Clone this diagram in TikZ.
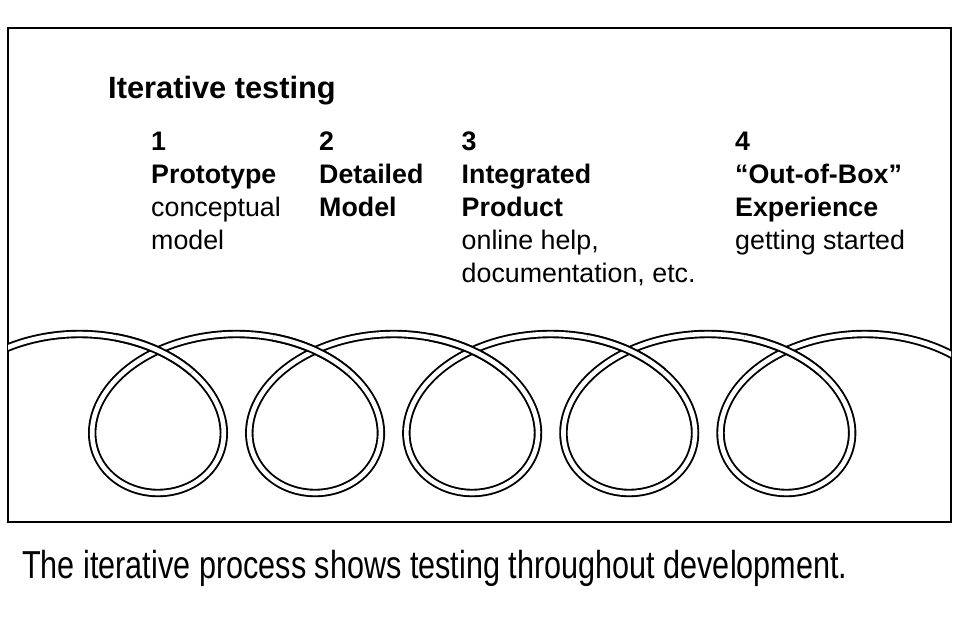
\documentclass[tikz,border=0pt]{standalone}
\usepackage{fontspec}
\setmainfont{Liberation Sans}
\newfontfamily\capfont[FakeStretch=0.785]{Liberation Sans}
\begin{document}
\begin{tikzpicture}[x=1pt,y=-1pt,
  lbl/.style={anchor=base west, inner sep=0pt, font=\fontsize{26.8}{33}\selectfont},
  lblb/.style={anchor=base west, inner sep=0pt, font=\fontsize{26.8}{33}\selectfont\bfseries},
  coil/.style={draw=black, line width=1.9pt, double=white, double distance=4.6pt},
  framebox/.style={draw=black, line width=2pt}]
\useasboundingbox (0,0) rectangle (960,640);
\fill[white] (0,0) rectangle (960,640);
% frame
\draw[framebox] (8,28) rectangle (951,522);
% coil
\begin{scope}
  \clip (8,28) rectangle (951,522);
  \draw[coil] plot[variable=\t, domain=-3.8:29.1, samples=800]
    ({158+25*\t-102*sin(\t r)},{413.5+79.5*cos(\t r)});
  \foreach \k in {0,...,4}{
    \pgfmathsetmacro{\ta}{2*pi*\k-2.85}
    \pgfmathsetmacro{\tb}{2*pi*\k-2.12}
    \draw[coil] plot[variable=\t, domain=\ta:\tb, samples=40]
      ({158+25*\t-102*sin(\t r)},{413.5+79.5*cos(\t r)});
  }
\end{scope}
% title
\node[anchor=base west, inner sep=0pt, font=\fontsize{30.8}{36}\selectfont\bfseries] (title) at (108,98.3) {Iterative testing};
% column 1
\node[lblb] (n1) at (151,150.5) {1};
\node[lblb] (h1) at (151,183) {Prototype};
\node[lbl]  (d1a) at (151,216) {conceptual};
\node[lbl]  (d1b) at (151,249) {model};
% column 2
\node[lblb] (n2) at (319,150.5) {2};
\node[lblb] (h2a) at (319,183) {Detailed};
\node[lblb] (h2b) at (319,216) {Model};
% column 3
\node[lblb] (n3) at (461.5,150.5) {3};
\node[lblb] (h3a) at (461.5,183) {Integrated};
\node[lblb] (h3b) at (461.5,216) {Product};
\node[lbl]  (d3a) at (461.5,249) {online help,};
\node[lbl]  (d3b) at (461.5,282.5) {documentation, etc.};
% column 4
\node[lblb] (n4) at (735,150.5) {4};
\node[lblb] (h4a) at (735,183) {“Out-of-Box”};
\node[lblb] (h4b) at (735,216) {Experience};
\node[lbl]  (d4) at (735,249) {getting started};
% caption
\node[anchor=base west, inner sep=0pt, font=\capfont\fontsize{39}{44}\selectfont] (cap) at (22,578.3) {The iterative process shows testing throughout development.};
\end{tikzpicture}
\end{document}
